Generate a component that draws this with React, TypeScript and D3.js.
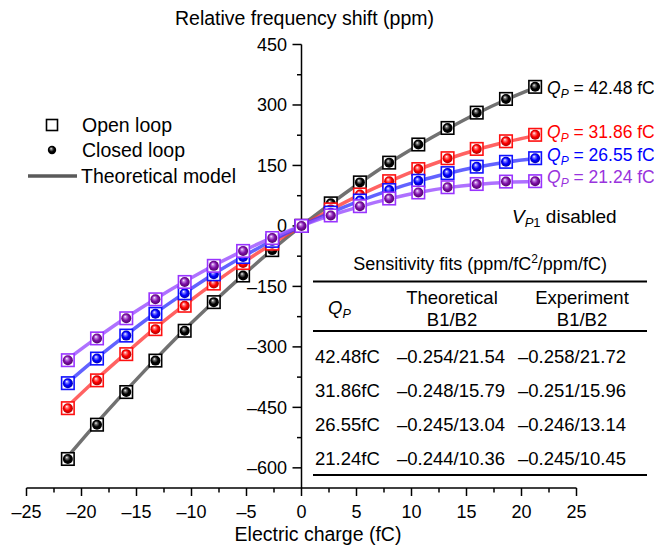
import React from 'react';
import * as d3 from 'd3';

// Electric charge values (fC) at which measurements were taken
const charge = [-21.24, -18.59, -15.93, -13.28, -10.62, -7.97, -5.31, -2.66, 0, 2.66, 5.31, 7.97, 10.62, 13.28, 15.93, 18.59, 21.24];

// Measured points (open loop / closed loop coincide), ppm
const exp4248 = [-578, -493, -412, -334, -260, -189, -123, -60, 0, 56, 108, 157, 202, 243, 281, 315, 345];
const exp3186 = [-452, -383, -318, -256, -198, -143, -92, -44, 0, 41, 78, 111, 141, 168, 191, 210, 226];
const exp2655 = [-390, -329, -272, -218, -167, -120, -77, -37, 0, 33, 63, 89, 112, 131, 147, 159, 168];
const exp2124 = [-333, -279, -229, -182, -139, -99, -62, -30, 0, 26, 49, 68, 83, 96, 104, 110, 111];

// Theoretical model curves, ppm
const th4248 = [-572, -488, -408, -331, -257, -188, -122, -59, 0, 55, 107, 156, 200, 241, 279, 313, 343];
const th3186 = [-447, -379, -315, -253, -196, -142, -91, -44, 0, 40, 77, 110, 140, 166, 189, 208, 224];
const th2655 = [-388, -327, -270, -216, -166, -119, -76, -36, 0, 33, 62, 88, 111, 130, 146, 158, 167];
const th2124 = [-330, -277, -227, -181, -138, -98, -62, -29, 0, 26, 48, 67, 83, 95, 103, 108, 110];

const seriesNames = ['42.48', '31.86', '26.55', '21.24'];

const xTicks = [-25, -20, -15, -10, -5, 0, 5, 10, 15, 20, 25];
const yTicks = [450, 300, 150, 0, -150, -300, -450, -600];

// Table
const tableQ = ['42.48fC', '31.86fC', '26.55fC', '21.24fC'];
const tableTheory = ['–0.254/21.54', '–0.248/15.79', '–0.245/13.04', '–0.244/10.36'];
const tableExp = ['–0.258/21.72', '–0.251/15.96', '–0.246/13.14', '–0.245/10.45'];

const FONT = '"Liberation Sans", Arial, Helvetica, sans-serif';

const styles = [
  { sq: '#000000', ball: '#000000', ballHi: '#777777', ballDark: '#000000', line: '#4d4d4d', label: '#000000', labelY: 94 },
  { sq: '#ff1010', ball: '#ff0000', ballHi: '#ff8080', ballDark: '#a00000', line: '#ff3b3b', label: '#ff0000', labelY: 138 },
  { sq: '#1010ff', ball: '#0000ff', ballHi: '#8080ff', ballDark: '#0000a0', line: '#3b3bff', label: '#0000ff', labelY: 161 },
  { sq: '#9933ff', ball: '#7f10a8', ballHi: '#c080e0', ballDark: '#4a0060', line: '#9a4dff', label: '#9933dd', labelY: 183 },
];

const fmt = (v: number) => (v < 0 ? '–' + Math.abs(v) : String(v));

export default function App() {
  const W = 654, H = 546;
  const x = d3.scaleLinear().domain([-25, 25]).range([26.5, 576.5]);
  const y = d3.scaleLinear().domain([-650, 450]).range([488, 44.5]);
  const x0 = x(0);
  const yAxisY = 488;

  const expSets = [exp4248, exp3186, exp2655, exp2124];
  const thSets = [th4248, th3186, th2655, th2124];

  const line = d3
    .line<number>()
    .x((_, i) => x(charge[i]))
    .y((d) => y(d))
    .curve(d3.curveCatmullRom.alpha(0.5));

  const xMinor = d3.range(-25, 25.01, 2.5).filter((v) => Math.abs(v % 5) > 0.01);
  const yMinor = d3.range(-600, 450.01, 75).filter((v) => Math.abs(v % 150) > 0.01);

  const sq = 12.5;
  const rBall = 5;

  return (
    <svg
      width={W}
      height={H}
      viewBox={`0 0 ${W} ${H}`}
      style={{ position: 'absolute', left: 0, top: 0, background: '#fff' }}
      fontFamily={FONT}
    >
      <defs>
        {styles.map((s, i) => (
          <radialGradient key={i} id={`ball${i}`} cx="0.5" cy="0.5" r="0.55" fx="0.38" fy="0.32">
            <stop offset="0" stopColor="#ffffff" />
            <stop offset="0.22" stopColor={s.ballHi} />
            <stop offset="0.55" stopColor={s.ball} />
            <stop offset="1" stopColor={s.ballDark} />
          </radialGradient>
        ))}
      </defs>
      <rect x={0} y={0} width={W} height={H} fill="#fff" />

      {/* Axis titles */}
      <text x={304.5} y={25} textAnchor="middle" fontSize={19.5}>
        Relative frequency shift (ppm)
      </text>
      <text x={318} y={541} textAnchor="middle" fontSize={19.5}>
        Electric charge (fC)
      </text>

      {/* X axis */}
      <line x1={x(-25)} x2={x(25)} y1={yAxisY} y2={yAxisY} stroke="#000" strokeWidth={1.5} />
      {xTicks.map((t) => (
        <g key={t}>
          <line x1={x(t)} x2={x(t)} y1={yAxisY} y2={yAxisY + 8} stroke="#000" strokeWidth={1.5} />
          <text x={x(t)} y={518} textAnchor="middle" fontSize={18}>
            {fmt(t)}
          </text>
        </g>
      ))}
      {xMinor.map((t) => (
        <line key={t} x1={x(t)} x2={x(t)} y1={yAxisY} y2={yAxisY + 4.5} stroke="#000" strokeWidth={1.5} />
      ))}

      {/* Y axis */}
      <line x1={x0} x2={x0} y1={y(450)} y2={yAxisY} stroke="#000" strokeWidth={1.5} />
      {yTicks.map((t) => (
        <g key={t}>
          <line x1={x0 - 9} x2={x0} y1={y(t)} y2={y(t)} stroke="#000" strokeWidth={1.5} />
          <text x={287} y={y(t)} dy="0.36em" textAnchor="end" fontSize={18}>
            {fmt(t)}
          </text>
        </g>
      ))}
      {yMinor.map((t) => (
        <line key={t} x1={x0 - 4.5} x2={x0} y1={y(t)} y2={y(t)} stroke="#000" strokeWidth={1.5} />
      ))}

      {/* Theoretical lines */}
      {thSets.map((d, i) => (
        <path
          key={i}
          d={line(d) || ''}
          fill="none"
          stroke={styles[i].line}
          strokeOpacity={0.8}
          strokeWidth={3.5}
          strokeLinecap="round"
        />
      ))}

      {/* Markers */}
      {expSets.map((d, i) => (
        <g key={i}>
          {d.map((v, j) => (
            <g key={j}>
              <rect
                x={x(charge[j]) - sq / 2}
                y={y(v) - sq / 2}
                width={sq}
                height={sq}
                fill="#fff"
                stroke={styles[i].sq}
                strokeWidth={1.6}
              />
              <circle cx={x(charge[j])} cy={y(v)} r={rBall} fill={`url(#ball${i})`} />
            </g>
          ))}
        </g>
      ))}

      {/* Series labels */}
      {seriesNames.map((n, i) => (
        <text key={n} x={547} y={styles[i].labelY} fontSize={17.5} fill={styles[i].label}>
          <tspan fontStyle="italic">Q</tspan>
          <tspan fontStyle="italic" fontSize={12} dy={4}>P</tspan>
          <tspan dy={-4}> = {n} fC</tspan>
        </text>
      ))}

      {/* Legend */}
      <rect x={52 - 5.5} y={125 - 5.5} width={11} height={11} fill="#fff" stroke="#000" strokeWidth={1.6} />
      <text x={82} y={132} fontSize={19.5}>Open loop</text>
      <circle cx={52} cy={150} r={4.2} fill="url(#ball0)" />
      <text x={82} y={157} fontSize={19.5}>Closed loop</text>
      <line x1={28} x2={77} y1={176} y2={176} stroke="#5a5a5a" strokeWidth={3.5} />
      <text x={81} y={183} fontSize={19.5}>Theoretical model</text>

      {/* V_P1 disabled */}
      <text x={512} y={223} fontSize={19}>
        <tspan fontStyle="italic">V</tspan>
        <tspan fontStyle="italic" fontSize={13} dy={4}>P</tspan>
        <tspan fontSize={13}>1</tspan>
        <tspan dy={-4}> disabled</tspan>
      </text>

      {/* Table */}
      <text x={480} y={270} textAnchor="middle" fontSize={18}>
        Sensitivity fits (ppm/fC<tspan fontSize={12} dy={-7}>2</tspan>
        <tspan dy={7}>/ppm/fC)</tspan>
      </text>
      <line x1={313} x2={647} y1={281.5} y2={281.5} stroke="#000" strokeWidth={2} />
      <text x={328} y={314} fontSize={18.5}>
        <tspan fontStyle="italic">Q</tspan>
        <tspan fontStyle="italic" fontSize={12.5} dy={4}>P</tspan>
      </text>
      <text x={452} y={303.5} textAnchor="middle" fontSize={18.5}>Theoretical</text>
      <text x={452} y={326} textAnchor="middle" fontSize={18.5}>B1/B2</text>
      <text x={582} y={303.5} textAnchor="middle" fontSize={18.5}>Experiment</text>
      <text x={582} y={326} textAnchor="middle" fontSize={18.5}>B1/B2</text>
      <line x1={313} x2={647} y1={331} y2={331} stroke="#000" strokeWidth={2} />
      {tableQ.map((q, i) => {
        const yy = 362.5 + i * 34;
        return (
          <g key={q} fontSize={18.5}>
            <text x={315} y={yy}>{q}</text>
            <text x={397} y={yy}>{tableTheory[i]}</text>
            <text x={518} y={yy}>{tableExp[i]}</text>
          </g>
        );
      })}
      <line x1={313} x2={647} y1={475} y2={475} stroke="#000" strokeWidth={2} />
    </svg>
  );
}
